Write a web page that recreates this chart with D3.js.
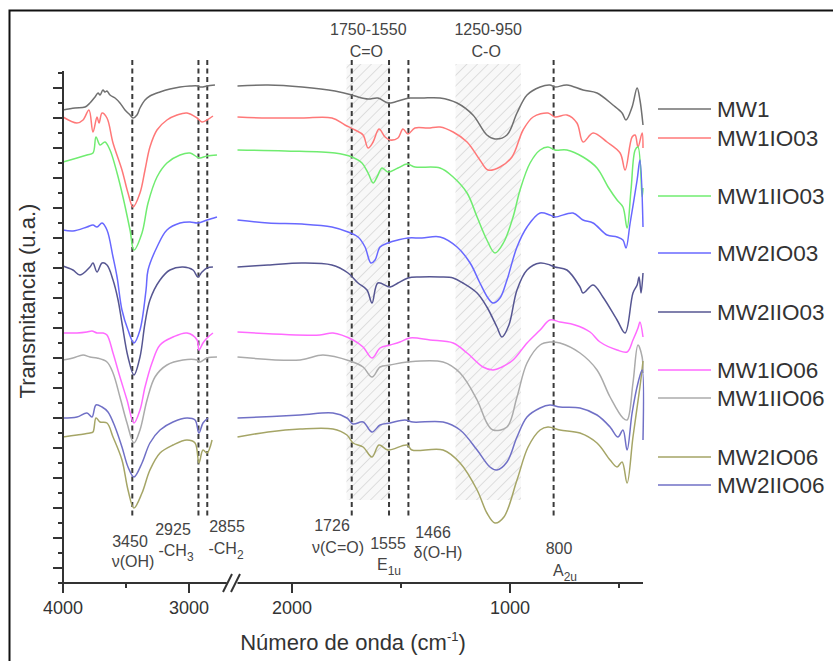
<!DOCTYPE html>
<html><head><meta charset="utf-8">
<script src="https://cdn.jsdelivr.net/npm/d3@7"></script>
<style>
body{margin:0;background:#fff}
svg{display:block}
text{font-family:"Liberation Sans",Arial,Helvetica,sans-serif}
</style>
</head><body>
<svg id="c" width="833" height="661"></svg>
<script>
// ---------------- data (wavenumber cm-1, transmittance a.u., stacked as plotted) ----------------
const seriesNames = ["MW1","MW1IO03","MW1IIO03","MW2IO03","MW2IIO03","MW1IO06","MW1IIO06","MW2IO06","MW2IIO06"];
const seriesColors = ["#707070","#ff7878","#70ec70","#6868ff","#565692","#ff6aff","#ababab","#a5a566","#7070c6"];

const MW1 = [[4000,94.6],[3905,95.0],[3825,95.2],[3786,96.0],[3746,97.2],[3722,98.0],[3706,97.6],[3683,98.6],[3667,98.2],[3651,98.4],[3627,97.6],[3587,97.0],[3548,96.0],[3508,94.6],[3468,93.6],[3444,93.0],[3413,93.6],[3389,95.0],[3349,96.6],[3310,97.4],[3230,98.2],[3151,98.8],[3071,99.2],[2992,99.4],[2929,99.4],[2913,99.2],[2889,99.2],[2857,99.4],[2794,99.6],[2698,99.8],
 [2250,99.4],[2110,99.6],[1954,99.2],[1803,98.4],[1725,97.6],[1697,97.2],[1651,96.8],[1606,97.0],[1560,96.0],[1528,96.2],[1482,96.8],[1459,97.0],[1404,97.0],[1321,97.0],[1243,96.0],[1170,93.6],[1106,89.6],[1069,88.8],[1014,89.6],[968,94.0],[922,97.6],[862,99.2],[817,99.6],[794,99.2],[739,99.6],[665,98.6],[601,98.0],[528,95.6],[486,94.0],[468,92.6],[440,95.2],[417,99.0],[404,96.6],[390,91.6]];

const MW1IO03 = [[4000,93.2],[3889,92.0],[3841,92.6],[3794,94.6],[3762,90.2],[3730,93.2],[3714,92.0],[3690,94.0],[3651,93.0],[3603,88.0],[3532,82.6],[3484,78.0],[3444,75.2],[3389,78.0],[3349,82.6],[3310,87.2],[3254,90.6],[3175,92.6],[3095,93.6],[3016,94.0],[2936,93.0],[2897,92.2],[2857,92.6],[2810,93.4],[2698,93.8],
 [2250,93.2],[2110,93.0],[1954,93.0],[1817,93.0],[1757,91.6],[1711,90.6],[1674,89.6],[1651,87.0],[1628,88.2],[1601,90.8],[1573,89.2],[1550,88.6],[1514,89.0],[1491,90.8],[1468,89.8],[1436,91.0],[1376,91.0],[1321,91.2],[1261,90.2],[1197,88.2],[1138,84.6],[1101,82.6],[1046,83.2],[991,85.2],[940,90.6],[894,93.2],[826,94.0],[794,93.2],[739,93.6],[693,92.0],[665,88.2],[619,90.0],[555,88.2],[495,86.0],[472,82.6],[440,89.2],[426,89.6],[413,87.2],[394,90.0],[390,87.0]];

const MW1IIO03 = [[4000,84.2],[3889,85.0],[3810,85.6],[3762,86.0],[3738,89.2],[3706,87.6],[3667,88.2],[3627,86.6],[3571,82.0],[3524,77.2],[3468,70.6],[3437,66.6],[3373,70.0],[3325,76.0],[3254,81.2],[3175,84.0],[3071,85.6],[2992,86.0],[2936,85.2],[2913,85.0],[2857,85.4],[2778,85.6],[2698,85.8],
 [2250,86.6],[2032,86.4],[1803,86.0],[1725,85.2],[1679,84.0],[1651,82.0],[1628,80.0],[1610,81.2],[1587,83.0],[1560,82.2],[1514,83.0],[1472,83.8],[1436,83.2],[1321,83.0],[1261,81.2],[1197,78.0],[1151,73.2],[1106,68.6],[1069,66.0],[1028,68.2],[986,73.2],[954,78.6],[908,84.0],[862,86.6],[826,87.2],[794,86.6],[739,86.6],[665,85.2],[601,83.0],[550,79.2],[509,76.6],[482,75.2],[463,71.0],[445,78.6],[426,86.6],[413,87.2],[394,77.2],[390,79.0]];

const MW2IO03 = [[4000,70.6],[3921,70.4],[3810,71.2],[3762,71.6],[3730,71.2],[3690,72.0],[3651,70.6],[3603,65.2],[3571,61.2],[3532,54.6],[3484,50.6],[3437,48.0],[3389,50.6],[3341,58.6],[3325,62.6],[3254,67.2],[3175,70.6],[3071,72.0],[2992,72.2],[2929,72.0],[2857,72.6],[2778,73.2],[2698,73.8],
 [2250,72.6],[2110,72.0],[1954,71.8],[1817,71.2],[1743,70.2],[1697,69.2],[1665,67.2],[1638,64.0],[1619,64.6],[1596,67.2],[1560,68.0],[1514,68.6],[1468,69.0],[1404,69.0],[1321,69.2],[1243,67.2],[1183,64.0],[1138,60.0],[1101,57.0],[1078,56.0],[1046,57.0],[1014,60.6],[968,67.2],[922,71.2],[862,74.0],[817,73.6],[794,73.2],[711,74.0],[665,72.6],[619,72.0],[555,69.6],[509,69.2],[482,68.6],[468,67.0],[449,72.0],[417,80.6],[404,84.6],[390,71.2]];

const MW2IIO03 = [[4000,63.4],[3921,62.6],[3865,61.6],[3786,63.2],[3762,64.0],[3730,62.2],[3690,64.0],[3651,63.6],[3603,60.6],[3563,56.6],[3532,52.0],[3484,45.2],[3437,41.6],[3389,45.2],[3349,52.0],[3310,56.6],[3230,60.6],[3151,62.6],[3048,63.2],[2968,62.6],[2929,61.2],[2897,62.2],[2857,63.0],[2810,63.2],[2698,63.2],
 [2250,63.2],[2110,63.6],[1954,64.0],[1817,63.6],[1743,62.0],[1697,60.0],[1656,58.6],[1633,56.0],[1606,60.0],[1550,59.2],[1514,60.0],[1468,61.0],[1413,61.2],[1321,61.2],[1261,61.0],[1216,60.0],[1151,58.0],[1106,55.2],[1060,51.2],[1037,49.2],[1005,51.6],[968,58.6],[922,62.6],[862,64.0],[817,63.6],[794,63.2],[739,62.6],[679,59.2],[665,58.0],[619,59.6],[574,57.2],[509,52.6],[472,50.0],[436,58.0],[417,59.6],[408,61.2],[399,58.0],[390,62.0]];

const MW1IO06 = [[4000,50.0],[3889,50.0],[3810,50.2],[3770,50.4],[3730,50.0],[3683,50.0],[3651,49.6],[3603,46.0],[3548,41.2],[3492,36.6],[3437,32.0],[3389,34.6],[3349,39.2],[3294,44.0],[3230,47.6],[3127,49.2],[3016,50.0],[2936,48.6],[2921,46.6],[2889,48.0],[2857,49.0],[2810,50.0],[2698,50.2],
 [2250,50.2],[1872,49.6],[1812,50.0],[1720,48.6],[1674,47.2],[1633,45.0],[1596,47.0],[1550,47.6],[1505,48.2],[1459,49.0],[1367,48.6],[1261,48.0],[1197,46.0],[1124,43.2],[1078,42.6],[1037,43.2],[986,44.6],[922,48.0],[862,50.6],[817,52.6],[771,52.2],[702,51.6],[633,50.2],[587,48.2],[509,46.6],[463,46.2],[436,48.6],[413,51.0],[404,52.2],[390,49.2]];

const MW1IIO06 = [[4000,44.6],[3921,45.0],[3841,45.6],[3786,45.2],[3730,45.0],[3651,44.2],[3603,42.0],[3548,37.2],[3492,32.0],[3437,28.0],[3389,30.6],[3333,36.6],[3270,41.2],[3175,43.6],[3048,44.6],[2936,44.6],[2913,44.2],[2857,45.0],[2778,45.2],[2698,46.0],
 [2250,45.2],[1963,44.6],[1858,45.6],[1734,44.4],[1674,43.2],[1633,41.2],[1596,43.2],[1550,43.6],[1472,44.2],[1307,44.2],[1229,42.0],[1151,36.6],[1106,32.0],[1078,30.6],[1014,31.2],[968,37.2],[922,44.0],[862,47.6],[817,48.2],[771,48.0],[679,46.0],[601,42.6],[541,37.2],[482,33.0],[463,32.6],[436,40.0],[413,47.6],[394,45.2],[390,42.0]];

const MW2IO06 = [[4000,29.2],[3889,29.6],[3786,30.0],[3762,30.2],[3738,33.0],[3706,32.2],[3651,32.0],[3603,29.2],[3532,24.6],[3484,18.6],[3437,15.0],[3373,18.0],[3310,22.6],[3230,26.0],[3127,27.6],[3016,28.6],[2952,28.0],[2921,24.0],[2889,26.6],[2857,26.0],[2817,28.6],[2698,28.8],
 [2250,29.2],[2110,30.2],[1963,30.8],[1812,30.8],[1748,29.6],[1720,28.0],[1674,27.2],[1633,25.2],[1601,27.6],[1560,26.6],[1472,27.6],[1450,26.6],[1307,26.6],[1229,24.0],[1151,18.6],[1106,14.0],[1069,12.0],[1028,13.2],[968,20.6],[917,27.2],[862,30.6],[826,31.2],[771,30.6],[679,30.0],[601,28.0],[541,24.6],[509,23.2],[486,24.2],[463,20.0],[436,29.2],[404,39.2],[390,44.4]];

const MW2IIO06 = [[4000,33.0],[3889,33.2],[3810,34.0],[3770,33.2],[3738,35.6],[3690,35.2],[3643,34.2],[3587,31.2],[3532,27.2],[3484,23.2],[3437,21.2],[3373,24.0],[3310,28.0],[3230,30.6],[3127,32.2],[3016,33.0],[2952,32.6],[2921,30.0],[2889,32.0],[2849,33.0],[2698,33.2],
 [2250,33.0],[1963,33.6],[1812,34.0],[1748,33.0],[1720,31.8],[1674,32.2],[1633,30.2],[1596,31.6],[1550,32.0],[1482,32.6],[1445,32.2],[1307,32.2],[1229,30.6],[1151,26.6],[1092,23.2],[1060,22.6],[1014,24.2],[968,29.2],[922,33.2],[862,35.0],[817,35.6],[771,35.2],[679,35.0],[601,33.6],[541,31.2],[505,29.2],[482,30.6],[463,26.6],[440,34.0],[413,40.0],[394,42.6],[390,28.6]];

const seriesData = [MW1, MW1IO03, MW1IIO03, MW2IO03, MW2IIO03, MW1IO06, MW1IIO06, MW2IO06, MW2IIO06];

const leftRange = [4000, 2700];     // wavenumber segment before the axis break
const rightRange = [2250, 390];     // wavenumber segment after the axis break
const xMajorTicks = [4000, 3000, 2000, 1000];
const xMinorTicks = [3500, 1500, 500];
const yTickStep = 3;
const yMax = 102.2;

const peakLines = [3450, 2925, 2855, 1726, 1555, 1466, 800];
const bands = [[1750, 1550], [1250, 950]];
const bandLabels = [["1750-1550", "C=O"], ["1250-950", "C-O"]];

// ---------------- drawing ----------------
const svg = d3.select("#c");
const axisColor = "#333";
const textColor = "#333";

const xL = d3.scaleLinear().domain(leftRange).range([63, 226.8]);
const xR = d3.scaleLinear().domain(rightRange).range([237.5, 643]);
const X = w => (w > 2475 ? xL(w) : xR(w));
const y = d3.scaleLinear().domain([0, yMax]).range([583, 72]);

// outer frame
svg.append("rect").attr("x", 9.5).attr("y", 10.5).attr("width", 900).attr("height", 700)
  .attr("fill", "none").attr("stroke", "#111").attr("stroke-width", 2);

// hatch pattern
const defs = svg.append("defs");
const pat = defs.append("pattern").attr("id", "hatch").attr("patternUnits", "userSpaceOnUse")
  .attr("width", 7.5).attr("height", 7.5).attr("patternTransform", "rotate(45)");
pat.append("rect").attr("width", 7.5).attr("height", 7.5).attr("fill", "#f8f8f8");
pat.append("line").attr("x1", 0).attr("y1", 0).attr("x2", 0).attr("y2", 7.5)
  .attr("stroke", "#cdcdcd").attr("stroke-width", 1.2);

bands.forEach((b, i) => {
  const x0 = xR(b[0]), x1 = xR(b[1]);
  svg.append("rect").attr("x", x0).attr("y", 64).attr("width", x1 - x0).attr("height", 436)
    .attr("fill", "url(#hatch)");
  const cx = (x0 + x1) / 2;
  svg.append("text").attr("x", cx).attr("y", 35).attr("text-anchor", "middle")
    .attr("font-size", 16).attr("fill", "#444").text(bandLabels[i][0]);
  svg.append("text").attr("x", cx - 2).attr("y", 57).attr("text-anchor", "middle")
    .attr("font-size", 16).attr("fill", "#444").text(bandLabels[i][1]);
});

// dashed peak lines
peakLines.forEach(w => {
  svg.append("line").attr("x1", X(w)).attr("x2", X(w)).attr("y1", 60).attr("y2", 516)
    .attr("stroke", "#3a3a3a").attr("stroke-width", 2).attr("stroke-dasharray", "5,3.5");
});

// curves
const line = d3.line().x(d => X(d[0])).y(d => y(d[1])).curve(d3.curveCatmullRom.alpha(0.5));
seriesData.forEach((s, i) => {
  const left = s.filter(d => d[0] >= leftRange[1]);
  const right = s.filter(d => d[0] <= rightRange[0]);
  [left, right].forEach(seg => {
    svg.append("path").attr("d", line(seg)).attr("fill", "none")
      .attr("stroke", seriesColors[i]).attr("stroke-width", 1.5).attr("stroke-linejoin", "round");
  });
});

// axes
const ax = svg.append("g").attr("stroke", axisColor).attr("stroke-width", 2);
ax.append("line").attr("x1", 63).attr("x2", 63).attr("y1", y(yMax) - 1).attr("y2", 583);
ax.append("line").attr("x1", 62).attr("x2", xL(leftRange[1])).attr("y1", 583).attr("y2", 583);
ax.append("line").attr("x1", xR(rightRange[0])).attr("x2", xR(rightRange[1])).attr("y1", 583).attr("y2", 583);
// break marks
[[223, 232], [231, 240]].forEach(p => {
  ax.append("line").attr("x1", p[0]).attr("y1", 592).attr("x2", p[1]).attr("y2", 574);
});
// y ticks
d3.range(0, yMax + 0.01, yTickStep).forEach((v, i) => {
  const long = i % 2 === 1;
  ax.append("line").attr("x1", 63).attr("x2", 63 - (long ? 10 : 5)).attr("y1", y(v)).attr("y2", y(v));
});
// x ticks
xMajorTicks.forEach(w => {
  ax.append("line").attr("x1", X(w)).attr("x2", X(w)).attr("y1", 583).attr("y2", 593);
  svg.append("text").attr("x", X(w)).attr("y", 614).attr("text-anchor", "middle")
    .attr("font-size", 18).attr("fill", textColor).text(w);
});
xMinorTicks.forEach(w => {
  ax.append("line").attr("x1", X(w)).attr("x2", X(w)).attr("y1", 583).attr("y2", 588);
});

// axis titles
const xt = svg.append("text").attr("x", 353).attr("y", 650).attr("text-anchor", "middle")
  .attr("font-size", 22).attr("fill", textColor);
xt.append("tspan").text("Número de onda (cm");
xt.append("tspan").attr("font-size", 13).attr("dy", -9).text("-1");
xt.append("tspan").attr("dy", 9).text(")");

svg.append("text").attr("transform", "translate(35,301) rotate(-90)").attr("text-anchor", "middle")
  .attr("font-size", 22).attr("fill", textColor).text("Transmitancia (u.a.)");

// peak annotations
function ann(x, yb, main, sub, anchor) {
  const t = svg.append("text").attr("x", x).attr("y", yb).attr("text-anchor", anchor || "middle")
    .attr("font-size", 16).attr("fill", "#444");
  t.append("tspan").text(main);
  if (sub) t.append("tspan").attr("font-size", 12).attr("dy", 5).text(sub);
}
ann(130, 547, "3450");
ann(133, 567, "ν(OH)");
ann(173, 535, "2925");
ann(176, 556, "-CH", "3");
ann(227, 532, "2855");
ann(226, 554, "-CH", "2");
ann(332, 531, "1726");
ann(338, 553, "ν(C=O)");
ann(388, 549, "1555");
ann(389, 570, "E", "1u");
ann(433, 538, "1466");
ann(438, 558, "δ(O-H)");
ann(559, 554, "800");
ann(565, 576, "A", "2u");

// legend
const legendY = [109, 138, 196, 253, 312, 370, 398, 457, 485];
seriesNames.forEach((n, i) => {
  svg.append("line").attr("x1", 658).attr("x2", 711).attr("y1", legendY[i]).attr("y2", legendY[i])
    .attr("stroke", seriesColors[i]).attr("stroke-width", 1.5);
  svg.append("text").attr("x", 717).attr("y", legendY[i] + 8).attr("font-size", 22.5)
    .attr("fill", textColor).text(n);
});
</script>
</body></html>
